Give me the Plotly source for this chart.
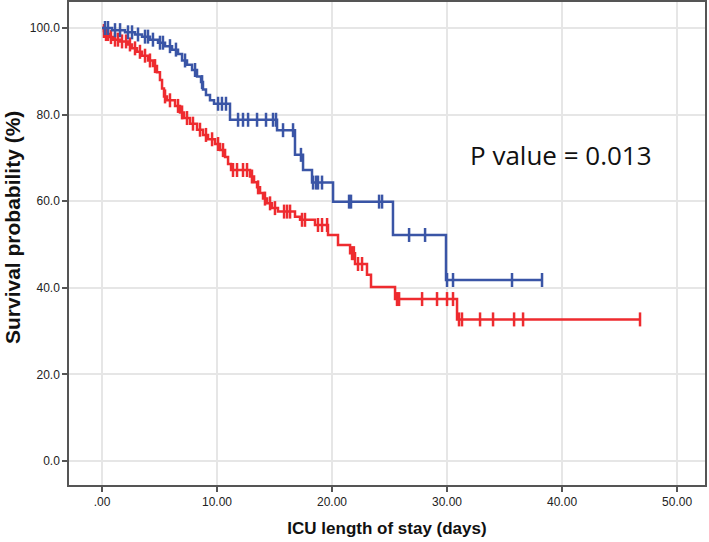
import plotly.graph_objects as go
import bisect

# Kaplan-Meier step data (days, survival %)
blue_times = [0, 0.87, 2.0, 2.87, 3.48, 4.17, 4.87, 5.48, 6.09, 6.61, 6.96, 7.39, 7.83, 8.26, 8.61,
              8.78, 9.04, 9.39, 9.74, 11.13, 15.22, 16.78, 17.48, 18.26, 20.09, 25.3, 29.91]
blue_surv = [100, 99.5, 99.0, 98.5, 98.0, 97.3, 96.6, 95.8, 95.0, 94.0, 92.5, 91.5, 90.3, 88.8, 87.5,
             85.8, 84.5, 83.3, 82.5, 78.8, 76.4, 70.7, 67.2, 64.3, 59.9, 52.2, 41.8]
blue_censored = [0.26, 0.52, 1.13, 1.57, 2.26, 2.61, 3.13, 3.74, 4.0, 4.43, 5.04, 5.3, 5.91, 6.43,
                 7.22, 8.09, 8.7, 10.09, 10.43, 10.78, 11.83, 12.26, 12.7, 13.48, 14.26, 14.87,
                 15.13, 15.74, 16.61, 17.3, 18.35, 18.61, 18.78, 19.13, 21.48, 21.65, 24.09,
                 24.35, 26.7, 28.09, 30.0, 30.52, 35.65, 38.26]

red_times = [0, 0.17, 0.35, 0.61, 0.96, 1.57, 2.26, 2.61, 3.04, 3.48, 4.0, 4.43, 4.78, 5.04, 5.22,
             5.39, 5.65, 6.35, 6.78, 7.13, 7.65, 8.26, 8.78, 9.22, 9.83, 10.26, 10.7, 10.96, 11.22,
             12.87, 13.22, 13.48, 13.74, 14.0, 14.35, 14.78, 15.3, 16.78, 17.22, 18.52, 19.65,
             20.52, 21.57, 22.0, 23.04, 23.39, 25.48, 30.87]
red_surv = [100, 99.3, 98.6, 97.9, 97.3, 96.9, 96.2, 95.3, 94.5, 93.6, 92.5, 91.2, 89.8, 88.0, 86.0,
            84.2, 83.3, 82.0, 80.5, 79.2, 77.9, 76.5, 75.3, 74.3, 73.2, 71.8, 70.2, 68.6, 67.2,
            65.7, 64.4, 63.2, 61.9, 60.6, 59.5, 58.4, 57.6, 56.4, 55.7, 54.5, 52.2,
            49.9, 48.0, 45.5, 43.0, 40.2, 37.4, 32.7]
red_censored = [0.17, 0.35, 0.52, 0.78, 1.13, 1.39, 1.74, 2.09, 2.43, 2.87, 3.3, 3.74, 4.17, 4.61,
                5.48, 5.91, 6.61, 6.96, 7.39, 7.91, 8.52, 9.04, 9.57, 10.09, 10.52, 11.39, 11.74,
                12.26, 12.61, 13.04, 13.57, 14.17, 14.61, 15.04, 15.83, 16.09, 16.35, 17.39,
                17.65, 18.78, 19.13, 19.57, 21.74, 21.9, 22.26, 22.61, 25.65, 25.83, 27.83,
                29.13, 30.0, 30.52, 31.04, 31.3, 32.87, 34.0, 35.83, 36.61, 46.78]

x_ticks = [0, 10, 20, 30, 40, 50]
x_ticklabels = [".00", "10.00", "20.00", "30.00", "40.00", "50.00"]
y_ticks = [0, 20, 40, 60, 80, 100]
y_ticklabels = ["0.0", "20.0", "40.0", "60.0", "80.0", "100.0"]

BLUE = "#3a55a6"
RED = "#ee2b2f"


def surv_at(times, surv, t):
    i = bisect.bisect_right(times, t) - 1
    return surv[max(i, 0)]


fig = go.Figure()
for times, surv, cens, col in [(red_times, red_surv, red_censored, RED),
                               (blue_times, blue_surv, blue_censored, BLUE)]:
    xs = list(times) + [max(cens)]
    ys = list(surv) + [surv[-1]]
    fig.add_trace(go.Scatter(x=xs, y=ys, mode="lines", line=dict(color=col, width=2.5, shape="hv"),
                             showlegend=False, hoverinfo="skip"))
    fig.add_trace(go.Scatter(x=cens, y=[surv_at(times, surv, c) for c in cens], mode="markers",
                             marker=dict(symbol="line-ns", size=10, color=col,
                                         line=dict(color=col, width=2.5)),
                             showlegend=False, hoverinfo="skip"))

fig.add_annotation(x=39.9, y=70.7, text="P value = 0.013", showarrow=False,
                   font=dict(family="Open Sans, DejaVu Sans, sans-serif", size=26, color="#111"))

# y-axis title placed as a rotated annotation to match the reference position
fig.add_annotation(xref="paper", yref="paper", x=-0.0896, y=0.532, xanchor="center", yanchor="middle",
                   text="<b>Survival probability (%)</b>", textangle=-90, showarrow=False,
                   font=dict(family="Liberation Sans, Arial", size=21, color="#111"))

tickfont = dict(family="Liberation Sans, Arial", size=12, color="#222")
fig.update_xaxes(range=[-2.87, 52.43], tickvals=x_ticks, ticktext=x_ticklabels, automargin=False,
                 showgrid=True, gridcolor="#e6e6e6", gridwidth=1.5, zeroline=False,
                 showline=True, linecolor="#555", linewidth=1.5, mirror=True,
                 ticks="outside", ticklen=5, tickwidth=1.5, tickcolor="#555", tickfont=tickfont,
                 title=dict(text="<b>ICU length of stay (days)</b>", standoff=14,
                            font=dict(family="Liberation Sans, Arial", size=17, color="#111")))
fig.update_yaxes(range=[-5.54, 106.0], tickvals=y_ticks, ticktext=y_ticklabels, automargin=False,
                 showgrid=True, gridcolor="#e6e6e6", gridwidth=1.5, zeroline=False,
                 showline=True, linecolor="#555", linewidth=1.5, mirror=True,
                 ticks="outside", ticklen=5, tickwidth=1.5, tickcolor="#555", tickfont=tickfont)
fig.update_layout(width=709, height=542, margin=dict(l=69, r=4, t=2, b=57),
                  plot_bgcolor="white", paper_bgcolor="white")
fig.write_html("out.html", config={"displayModeBar": False},
               post_script="document.body.style.margin='0';document.body.style.padding='0';")
